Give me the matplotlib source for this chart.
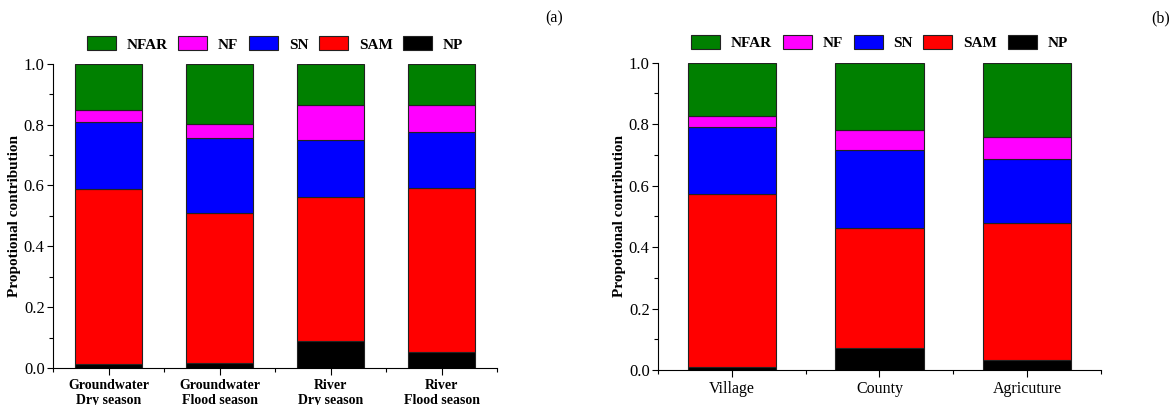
import numpy as np
import matplotlib
matplotlib.use("Agg")
import matplotlib.pyplot as plt
from matplotlib.ticker import MultipleLocator

plt.rcParams['font.family'] = ['Liberation Serif', 'DejaVu Serif']

sources = ["NFAR", "NF", "SN", "SAM", "NP"]
colors = {"NFAR": "#008000", "NF": "#ff00ff", "SN": "#0000ff", "SAM": "#ff0000", "NP": "#000000"}

# panel (a): water type / season
cats_a = ["Groundwater\nDry season", "Groundwater\nFlood season", "River\nDry season", "River\nFlood season"]
np_a = [0.014, 0.016, 0.088, 0.052]
sam_a = [0.575, 0.493, 0.474, 0.541]
sn_a = [0.220, 0.246, 0.189, 0.183]
nf_a = [0.039, 0.048, 0.114, 0.088]
nfar_a = [0.152, 0.197, 0.135, 0.136]

# panel (b): land use
cats_b = ["Village", "County", "Agricuture"]
np_b = [0.011, 0.072, 0.034]
sam_b = [0.561, 0.391, 0.443]
sn_b = [0.220, 0.254, 0.211]
nf_b = [0.033, 0.063, 0.069]
nfar_b = [0.175, 0.220, 0.243]


def stacked(ax, cats, parts, bold_labels):
    x = np.arange(len(cats))
    bottom = np.zeros(len(cats))
    # stack from the bottom up: NP, SAM, SN, NF, NFAR
    for name in ["NP", "SAM", "SN", "NF", "NFAR"]:
        vals = np.array(parts[name])
        ax.bar(x, vals, 0.6, bottom=bottom, color=colors[name],
               edgecolor="#222222", linewidth=0.8, label=name)
        bottom += vals
    ax.set_xlim(-0.5, len(cats) - 0.5)
    ax.set_ylim(0, 1.0)
    ax.set_xticks(x)
    if bold_labels:
        ax.set_xticklabels(cats, fontsize=10, fontweight="bold", linespacing=1.15)
    else:
        ax.set_xticklabels(cats, fontsize=11.5)
    ax.xaxis.set_minor_locator(MultipleLocator(0.5))
    ax.yaxis.set_major_locator(MultipleLocator(0.2))
    ax.yaxis.set_minor_locator(MultipleLocator(0.1))
    ax.yaxis.set_major_formatter(matplotlib.ticker.FormatStrFormatter("%.1f"))
    ax.tick_params(axis="y", labelsize=12, direction="out", length=4, width=0.8, pad=2)
    ax.tick_params(axis="x", direction="out", length=5, width=0.8, pad=3)
    ax.tick_params(which="minor", direction="out", length=3, width=0.8)
    ax.spines["top"].set_visible(False)
    ax.spines["right"].set_visible(False)
    ax.set_ylabel("Propotional contribution", fontsize=11, fontweight="bold", labelpad=2)

    handles, labels = ax.get_legend_handles_labels()
    order = [labels.index(s) for s in sources]
    ax.legend([handles[i] for i in order], sources, ncol=5, loc="lower center",
              bbox_to_anchor=(0.5, 1.0), frameon=False,
              prop={"weight": "bold", "size": 11}, handlelength=1.9, handleheight=1.05,
              columnspacing=0.7, handletextpad=0.7, borderaxespad=0.4)


fig = plt.figure(figsize=(11.75, 4.05), dpi=100)
ax1 = fig.add_axes([0.0451, 0.0914, 0.378, 0.751])
ax2 = fig.add_axes([0.560, 0.0864, 0.377, 0.759])

stacked(ax1, cats_a, {"NP": np_a, "SAM": sam_a, "SN": sn_a, "NF": nf_a, "NFAR": nfar_a}, True)
stacked(ax2, cats_b, {"NP": np_b, "SAM": sam_b, "SN": sn_b, "NF": nf_b, "NFAR": nfar_b}, False)

fig.text(0.472, 0.955, "(a)", fontsize=11.5, ha="center", va="center")
fig.text(0.988, 0.955, "(b)", fontsize=11.5, ha="center", va="center")

fig.savefig("out.png", dpi=100)
